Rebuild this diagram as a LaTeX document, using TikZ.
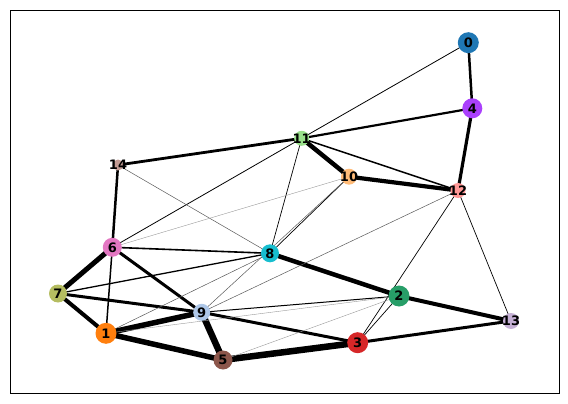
\documentclass[tikz,border=0pt]{standalone}
\usepackage{fontspec}
\setsansfont{DejaVu Sans}
\usetikzlibrary{backgrounds}
\definecolor{c0}{HTML}{1F77B4}
\definecolor{c1}{HTML}{FF7F0E}
\definecolor{c2}{HTML}{279E68}
\definecolor{c3}{HTML}{D62728}
\definecolor{c4}{HTML}{AA40FC}
\definecolor{c5}{HTML}{8C564B}
\definecolor{c6}{HTML}{E377C2}
\definecolor{c7}{HTML}{B5BD61}
\definecolor{c8}{HTML}{17BECF}
\definecolor{c9}{HTML}{AEC7E8}
\definecolor{c10}{HTML}{FFBB78}
\definecolor{c11}{HTML}{98DF8A}
\definecolor{c12}{HTML}{FF9896}
\definecolor{c13}{HTML}{C5B0D5}
\definecolor{c14}{HTML}{C49C94}
\begin{document}
\begin{tikzpicture}[x=1pt,y=-1pt,
    cl/.style={circle,fill=#1,inner sep=0pt},
    every label/.style={font=\sffamily\bfseries\fontsize{13}{13}\selectfont,inner sep=0pt},
    faint/.style={line width=0.4pt,black!40},
    weak/.style={line width=0.5pt,black!65}
]
\useasboundingbox (0,0) rectangle (568,404);
\draw[line width=1pt] (10.7,10.7) rectangle (559,393.3);

\node[cl=c0,  minimum size=21] (n0)  at (468.3,42.7)  [label=center:0] {};
\node[cl=c4,  minimum size=20] (n4)  at (472.3,108.3) [label=center:4] {};
\node[cl=c11, minimum size=15] (n11) at (301.7,138.3) [label=center:11] {};
\node[cl=c14, minimum size=11] (n14) at (118,165)     [label=center:14] {};
\node[cl=c10, minimum size=16] (n10) at (349,176.7)   [label=center:10] {};
\node[cl=c12, minimum size=15] (n12) at (458,190.5)   [label=center:12] {};
\node[cl=c6,  minimum size=19] (n6)  at (112.3,247.3) [label=center:6] {};
\node[cl=c8,  minimum size=18] (n8)  at (270,253.3)   [label=center:8] {};
\node[cl=c7,  minimum size=18] (n7)  at (58,293.5)    [label=center:7] {};
\node[cl=c2,  minimum size=21] (n2)  at (399,296)     [label=center:2] {};
\node[cl=c9,  minimum size=17] (n9)  at (201.7,312.3) [label=center:9] {};
\node[cl=c13, minimum size=16] (n13) at (511,321)     [label=center:13] {};
\node[cl=c1,  minimum size=21] (n1)  at (106,333.3)   [label=center:1] {};
\node[cl=c3,  minimum size=21] (n3)  at (357.7,342.7) [label=center:3] {};
\node[cl=c5,  minimum size=19] (n5)  at (223,360)     [label=center:5] {};

\begin{scope}[on background layer]
% strong links
\draw[line width=2.5pt] (n0.center) -- (n4.center);
\draw[line width=2.2pt] (n4.center) -- (n11.center);
\draw[line width=3.2pt] (n4.center) -- (n12.center);
\draw[line width=2.8pt] (n11.center) -- (n14.center);
\draw[line width=4.5pt] (n11.center) -- (n10.center);
\draw[line width=1.5pt] (n11.center) -- (n12.center);
\draw[line width=4.2pt] (n10.center) -- (n12.center);
\draw[line width=2.5pt] (n14.center) -- (n6.center);
\draw[line width=1.6pt] (n6.center) -- (n8.center);
\draw[line width=5pt]   (n6.center) -- (n7.center);
\draw[line width=1.5pt] (n6.center) -- (n1.center);
\draw[line width=3pt]   (n6.center) -- (n9.center);
\draw[line width=4.5pt] (n8.center) -- (n2.center);
\draw[line width=1.3pt] (n8.center) -- (n7.center);
\draw[line width=3pt]   (n7.center) -- (n9.center);
\draw[line width=4pt]   (n7.center) -- (n1.center);
\draw[line width=5.5pt] (n1.center) -- (n9.center);
\draw[line width=5.5pt] (n1.center) -- (n5.center);
\draw[line width=6.5pt] (n9.center) -- (n5.center);
\draw[line width=1pt]   (n9.center) -- (n2.center);
\draw[line width=3pt]   (n9.center) -- (n3.center);
\draw[line width=6.5pt] (n5.center) -- (n3.center);
\draw[line width=4pt]   (n2.center) -- (n13.center);
\draw[line width=3pt]   (n3.center) -- (n13.center);
% thin links
\draw[line width=0.8pt] (n0.center) -- (n11.center);
\draw[line width=0.8pt] (n11.center) -- (n6.center);
\draw[line width=0.7pt] (n11.center) -- (n8.center);
\draw[line width=0.7pt] (n10.center) -- (n8.center);
\draw[line width=0.7pt] (n12.center) -- (n3.center);
\draw[line width=0.7pt] (n12.center) -- (n13.center);
\draw[line width=0.7pt] (n2.center) -- (n3.center);
\draw[weak] (n10.center) -- (n9.center);
\draw[weak] (n12.center) -- (n9.center);
\draw[weak] (n14.center) -- (n8.center);
\draw[weak] (n8.center) -- (n1.center);
\draw[faint] (n10.center) -- (n6.center);
\draw[faint] (n1.center) -- (n2.center);
\draw[faint] (n5.center) -- (n2.center);
\end{scope}
\end{tikzpicture}
\end{document}
